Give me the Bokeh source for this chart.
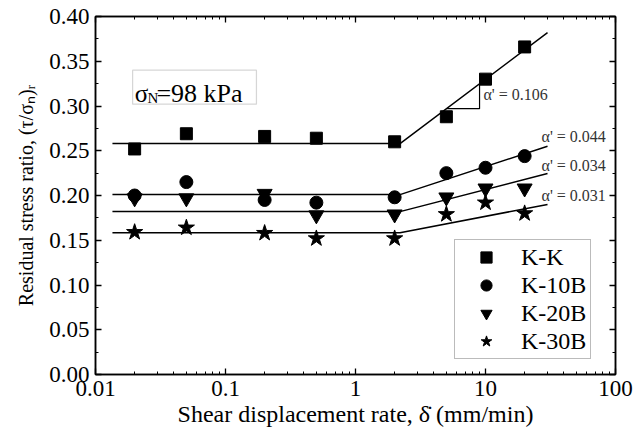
import math
from bokeh.plotting import figure
from bokeh.models import (LinearAxis, LogAxis, FixedTicker, CustomJSTickFormatter,
                          Legend, LegendItem, Label, BoxAnnotation)
from bokeh.embed import file_html
from bokeh.resources import INLINE

# ---------------- data ----------------
rates = [0.02, 0.05, 0.2, 0.5, 2, 5, 10, 20]          # shear displacement rate (mm/min)
kk    = [0.252, 0.269, 0.266, 0.264, 0.260, 0.288, 0.330, 0.366]
k10b  = [0.200, 0.215, 0.195, 0.192, 0.198, 0.225, 0.231, 0.244]
k20b  = [0.197, 0.197, 0.202, 0.178, 0.179, 0.198, 0.208, 0.208]
k30b  = [0.159, 0.164, 0.158, 0.152, 0.152, 0.179, 0.192, 0.180]

series_names = ["K-K", "K-10B", "K-20B", "K-30B"]

# fitted bilinear trend lines
fit_x     = [0.0135, 2.2, 30]
fit_kk    = [0.258, 0.258, 0.382]
fit_k10b  = [0.201, 0.201, 0.255]
fit_k20b  = [0.182, 0.182, 0.2245]
fit_k30b  = [0.1585, 0.1585, 0.190]

slope_labels = ["0.106", "0.044", "0.034", "0.031"]
tri_x = [5, 9]   # slope triangle legs on the K-K line

x_ticks = [0.01, 0.1, 1, 10, 100]
x_tick_labels = ["0.01", "0.1", "1", "10", "100"]
y_ticks = [0.0, 0.05, 0.10, 0.15, 0.20, 0.25, 0.30, 0.35, 0.40]
y_tick_labels = ["0.00", "0.05", "0.10", "0.15", "0.20", "0.25", "0.30", "0.35", "0.40"]

FONT = "Liberation Serif"

# ---------------- figure ----------------
p = figure(width=633, height=434, x_axis_type="log", x_range=(0.01, 100), y_range=(0, 0.4),
           output_backend="svg", toolbar_location=None,
           min_border_left=95, min_border_right=18, min_border_top=16, min_border_bottom=60)
p.xgrid.visible = False
p.ygrid.visible = False
p.outline_line_color = "black"
p.outline_line_width = 1.5
p.background_fill_color = "white"
p.border_fill_color = "white"

x_minor = [m * 10.0 ** e for e in range(-2, 2) for m in range(2, 10)]
y_minor = [0.025 + 0.05 * i for i in range(8)]

def x_fmt():
    return CustomJSTickFormatter(args=dict(tv=x_ticks, tl=x_tick_labels), code="""
        for (let i = 0; i < tv.length; i++) {
            if (Math.abs(Math.log10(tv[i]) - Math.log10(tick)) < 1e-6) return tl[i];
        }
        return '';""")

def y_fmt():
    return CustomJSTickFormatter(args=dict(tv=y_ticks, tl=y_tick_labels), code="""
        for (let i = 0; i < tv.length; i++) {
            if (Math.abs(tv[i] - tick) < 1e-6) return tl[i];
        }
        return '';""")

def style_axis(ax):
    ax.axis_line_width = 1.5
    ax.axis_line_color = "black"
    ax.major_tick_in = 6
    ax.major_tick_out = 0
    ax.minor_tick_in = 3
    ax.minor_tick_out = 0
    ax.major_tick_line_width = 1.3
    ax.minor_tick_line_width = 1
    ax.major_tick_line_color = "black"
    ax.minor_tick_line_color = "black"
    ax.major_label_text_font = FONT
    ax.major_label_text_font_size = "23px"
    ax.major_label_text_color = "black"
    ax.major_label_standoff = 6
    ax.axis_label_text_font = FONT
    ax.axis_label_text_font_size = "23px"
    ax.axis_label_text_font_style = "normal"
    ax.axis_label_text_color = "black"

xt = FixedTicker(ticks=x_ticks, minor_ticks=x_minor)
yt = FixedTicker(ticks=y_ticks, minor_ticks=y_minor)

xa = p.xaxis[0]
xa.ticker = xt
xa.formatter = x_fmt()
style_axis(xa)
xa.axis_label = "Shear displacement rate, δ̇ (mm/min)"
xa.axis_label_text_font_size = "24px"
xa.axis_label_standoff = 2

ya = p.yaxis[0]
ya.ticker = yt
ya.formatter = y_fmt()
style_axis(ya)
ya.axis_label = "Residual stress ratio, (τ/σₙ)ᵣ"
ya.axis_label_text_font_size = "20px"
ya.axis_label_standoff = 9

top = LogAxis(ticker=FixedTicker(ticks=x_ticks, minor_ticks=x_minor),
              formatter=CustomJSTickFormatter(code="return ''"))
style_axis(top)
top.major_label_text_font_size = "0px"
top.major_label_standoff = 0
p.add_layout(top, "above")

right = LinearAxis(ticker=FixedTicker(ticks=y_ticks, minor_ticks=y_minor),
                   formatter=CustomJSTickFormatter(code="return ''"))
style_axis(right)
right.major_label_text_font_size = "0px"
right.major_label_standoff = 0
p.add_layout(right, "right")

# ---------------- fit lines ----------------
for fy in (fit_kk, fit_k10b, fit_k20b, fit_k30b):
    p.line(fit_x, fy, line_color="black", line_width=1.5)

# slope triangle on K-K line
def on_kk(x):
    t = math.log10(x / fit_x[1]) / math.log10(fit_x[2] / fit_x[1])
    return fit_kk[1] + (fit_kk[2] - fit_kk[1]) * t

y_lo = on_kk(tri_x[0])
y_hi = on_kk(tri_x[1])
p.line([tri_x[0], tri_x[1], tri_x[1]], [y_lo, y_lo, y_hi], line_color="black", line_width=1.2)

# ---------------- markers ----------------
r_kk  = p.scatter(rates, kk,   marker="square",            size=12, color="black")
r_10  = p.scatter(rates, k10b, marker="circle",            size=13, color="black")
r_20  = p.scatter(rates, k20b, marker="inverted_triangle", size=15, color="black")
r_30  = p.scatter(rates, k30b, marker="star",              size=17, color="black")

# ---------------- annotations ----------------
alpha_pos = [(9.65, 0.3128), (27.0, 0.266), (27.0, 0.2335), (27.0, 0.200)]
for (ax_, ay_), s in zip(alpha_pos, slope_labels):
    p.add_layout(Label(x=ax_, y=ay_, text="α' = " + s, text_font=FONT, text_font_size="16px",
                       text_color="#333333", text_baseline="middle", text_align="left"))

p.add_layout(BoxAnnotation(left=0.0193, right=0.173, bottom=0.302, top=0.340,
                           fill_alpha=0, line_color="#777777", line_width=1.2))
p.add_layout(Label(x=0.0200, y=0.314, text="σ", text_font=FONT, text_font_size="25px",
                   text_color="black", text_baseline="alphabetic"))
p.add_layout(Label(x=0.0251, y=0.3085, text="N", text_font=FONT, text_font_size="15px",
                   text_color="black", text_baseline="alphabetic"))
p.add_layout(Label(x=0.0294, y=0.314, text="=98 kPa", text_font=FONT, text_font_size="26px",
                   text_color="black", text_baseline="alphabetic"))

# ---------------- legend ----------------
legend = Legend(items=[LegendItem(label=n, renderers=[r]) for n, r in
                       zip(series_names, [r_kk, r_10, r_20, r_30])],
                location=(359, 15), orientation="vertical",
                label_text_font=FONT, label_text_font_size="24px", label_text_color="black",
                glyph_width=56, glyph_height=28, label_height=28, label_width=66,
                spacing=0, padding=3, margin=0, label_standoff=7,
                border_line_color="#777777", border_line_width=1.2,
                background_fill_color="white", background_fill_alpha=1)
p.add_layout(legend)

open("out.html", "w").write(file_html(p, INLINE))
